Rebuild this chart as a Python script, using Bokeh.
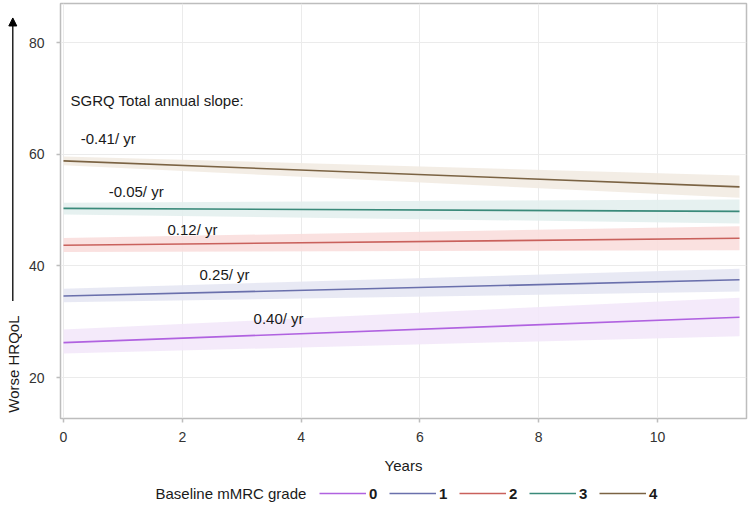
from bokeh.plotting import figure
from bokeh.layouts import row, column
from bokeh.models import Range1d, Label, Arrow, NormalHead, Legend, LegendItem, FixedTicker
from bokeh.embed import file_html
from bokeh.resources import INLINE
import math

# ---- data ----
grades = ["0", "1", "2", "3", "4"]
slopes = ["0.40/ yr", "0.25/ yr", "0.12/ yr", "-0.05/ yr", "-0.41/ yr"]
years = [0.0, 11.38]
fit_0 = [26.25, 30.8]
fit_1 = [34.6, 37.5]
fit_2 = [43.7, 44.95]
fit_3 = [50.3, 49.75]
fit_4 = [58.8, 54.15]
lo_0 = [24.3, 27.4]
hi_0 = [28.6, 34.3]
lo_1 = [33.5, 35.4]
hi_1 = [35.9, 39.5]
lo_2 = [42.5, 42.8]
hi_2 = [45.0, 47.1]
lo_3 = [49.2, 47.6]
hi_3 = [51.3, 51.9]
lo_4 = [58.0, 52.2]
hi_4 = [59.6, 56.2]
label_x = [3.2, 2.29, 1.75, 0.76, 0.29]
label_y = [30.65, 38.45, 46.5, 53.3, 62.8]
x_ticks = [0, 2, 4, 6, 8, 10]
y_ticks = [20, 40, 60, 80]

fits = [fit_0, fit_1, fit_2, fit_3, fit_4]
los = [lo_0, lo_1, lo_2, lo_3, lo_4]
his = [hi_0, hi_1, hi_2, hi_3, hi_4]
line_colors = ["#b062e0", "#6a70ac", "#c9615c", "#3a8a7a", "#7b6343"]
band_colors = ["#f3e8fa", "#e5e7f3", "#f9dedd", "#e3f0ee", "#f2ebe2"]

FONT = "Liberation Sans"
TXT = "#1a1a1a"

y_range = Range1d(12.66, 86.99)

# ---- main plot ----
p = figure(width=728, height=480, output_backend="svg", toolbar_location=None,
           x_range=Range1d(-0.0505, 11.498), y_range=y_range,
           min_border_left=38, min_border_right=4, min_border_top=3, min_border_bottom=62)

p.outline_line_color = "#bdbdbd"
p.outline_line_width = 1.5

for ax in (p.xaxis[0], p.yaxis[0]):
    ax.axis_line_color = None
    ax.major_tick_line_color = "#bdbdbd"
    ax.major_tick_line_width = 1.5
    ax.major_tick_in = 0
    ax.major_tick_out = 4
    ax.minor_tick_line_color = None
    ax.major_label_text_font = FONT
    ax.major_label_text_font_size = "14px"
    ax.major_label_text_color = "#333333"

p.xaxis.ticker = FixedTicker(ticks=x_ticks)
p.yaxis.ticker = FixedTicker(ticks=y_ticks)
p.xaxis.major_label_standoff = 9
p.yaxis.major_label_standoff = 12
p.xaxis.axis_label = "Years"
p.xaxis.axis_label_text_font = FONT
p.xaxis.axis_label_text_font_size = "15px"
p.xaxis.axis_label_text_font_style = "normal"
p.xaxis.axis_label_text_color = TXT
p.xaxis.axis_label_standoff = 12

p.xgrid.ticker = FixedTicker(ticks=x_ticks)
p.ygrid.ticker = FixedTicker(ticks=y_ticks)
p.grid.grid_line_color = "#ebebeb"
p.grid.grid_line_width = 1

for i in range(5):
    p.varea(x=years, y1=los[i], y2=his[i], fill_color=band_colors[i], fill_alpha=0.9)
for i in range(5):
    p.line(x=years, y=fits[i], line_color=line_colors[i], line_width=1.6)

for i in range(5):
    p.add_layout(Label(x=label_x[i], y=label_y[i], text=slopes[i], text_font=FONT,
                       text_font_size="15px", text_color=TXT, text_baseline="middle"))

p.add_layout(Label(x=0.118, y=69.6, text="SGRQ Total annual slope:", text_font=FONT,
                   text_font_size="15px", text_color=TXT, text_baseline="middle"))

# ---- left strip: y-axis label with arrow ----
pl = figure(width=22, height=480, output_backend="svg", toolbar_location=None,
            x_range=Range1d(0, 22), y_range=y_range,
            min_border_left=0, min_border_right=0, min_border_top=3, min_border_bottom=62)
pl.axis.visible = False
pl.grid.visible = False
pl.outline_line_color = None
pl.add_layout(Label(x=12.5, y=13.7, text="Worse HRQoL", angle=math.pi / 2, text_font=FONT,
                    text_font_size="15px", text_color=TXT, text_baseline="middle",
                    text_align="left"))
pl.add_layout(Arrow(x_start=12.3, y_start=33.7, x_end=12.3, y_end=84.4, line_width=1.3,
                    line_color="black",
                    end=NormalHead(size=8, fill_color="black", line_color="black")))

# ---- bottom strip: legend ----
pb = figure(width=750, height=28, output_backend="svg", toolbar_location=None,
            x_range=Range1d(0, 750), y_range=Range1d(0, 28),
            min_border_left=0, min_border_right=0, min_border_top=0, min_border_bottom=0)
pb.axis.visible = False
pb.grid.visible = False
pb.outline_line_color = None
items = []
for i in range(5):
    # single-point line: draws nothing in the strip, only provides the legend swatch
    r = pb.line(x=[years[0]], y=[fits[i][0]], line_color=line_colors[i], line_width=1.6)
    items.append(LegendItem(label=grades[i], renderers=[r]))
pb.add_layout(Label(x=155, y=15, text="Baseline mMRC grade", text_font=FONT,
                    text_font_size="15px", text_color=TXT, text_baseline="middle"))
legend = Legend(items=items, orientation="horizontal", location=(319, 5),
                padding=0, margin=0, border_line_color=None, background_fill_alpha=0,
                glyph_width=47, glyph_height=20, label_standoff=3, spacing=11,
                label_width=9, label_height=20,
                label_text_font=FONT, label_text_font_size="15px",
                label_text_font_style="bold", label_text_color=TXT)
pb.add_layout(legend, "center")

layout = column(row(pl, p, spacing=0), pb, spacing=0)
open("out.html", "w").write(file_html(layout, INLINE))
